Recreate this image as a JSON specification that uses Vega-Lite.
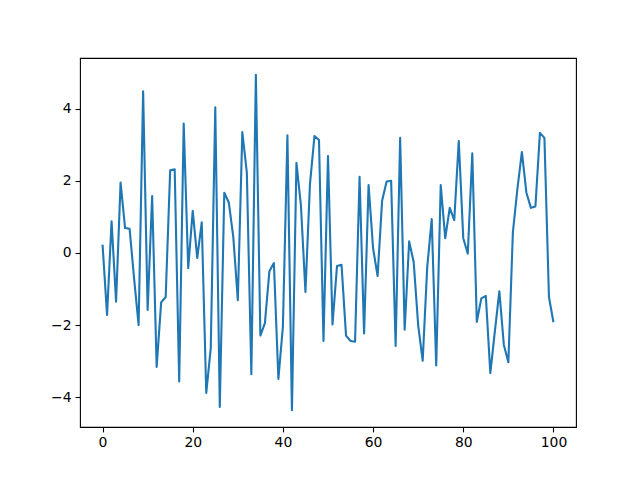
{
  "$schema": "https://vega.github.io/schema/vega-lite/v6.json",
  "width": 496,
  "height": 369,
  "autosize": {"type": "none"},
  "padding": {"left": 80, "top": 58, "right": 64, "bottom": 53},
  "background": "white",
  "config": {
    "view": {"stroke": "black", "strokeWidth": 1.1},
    "axis": {
      "grid": false,
      "domain": false,
      "tickColor": "black",
      "tickSize": 4.9,
      "tickWidth": 1.1,
      "labelColor": "black",
      "labelFont": "DejaVu Sans",
      "labelFontSize": 13.9,
      "labelPadding": 4,
      "title": null
    }
  },
  "data": {
    "values": [
      {"x": 0, "y": 0.23}, {"x": 1, "y": -1.72}, {"x": 2, "y": 0.88}, {"x": 3, "y": -1.35}, {"x": 4, "y": 1.95},
      {"x": 5, "y": 0.69}, {"x": 6, "y": 0.67}, {"x": 7, "y": -0.71}, {"x": 8, "y": -2.0}, {"x": 9, "y": 4.48},
      {"x": 10, "y": -1.58}, {"x": 11, "y": 1.58}, {"x": 12, "y": -3.16}, {"x": 13, "y": -1.37}, {"x": 14, "y": -1.22},
      {"x": 15, "y": 2.29}, {"x": 16, "y": 2.32}, {"x": 17, "y": -3.56}, {"x": 18, "y": 3.59}, {"x": 19, "y": -0.42},
      {"x": 20, "y": 1.17}, {"x": 21, "y": -0.14}, {"x": 22, "y": 0.85}, {"x": 23, "y": -3.88}, {"x": 24, "y": -2.64},
      {"x": 25, "y": 4.04}, {"x": 26, "y": -4.27}, {"x": 27, "y": 1.67}, {"x": 28, "y": 1.4}, {"x": 29, "y": 0.44},
      {"x": 30, "y": -1.31}, {"x": 31, "y": 3.35}, {"x": 32, "y": 2.23}, {"x": 33, "y": -3.36}, {"x": 34, "y": 4.94},
      {"x": 35, "y": -2.29}, {"x": 36, "y": -1.95}, {"x": 37, "y": -0.51}, {"x": 38, "y": -0.28}, {"x": 39, "y": -3.49},
      {"x": 40, "y": -2.04}, {"x": 41, "y": 3.26}, {"x": 42, "y": -4.36}, {"x": 43, "y": 2.5}, {"x": 44, "y": 1.31},
      {"x": 45, "y": -1.08}, {"x": 46, "y": 1.91}, {"x": 47, "y": 3.24}, {"x": 48, "y": 3.13}, {"x": 49, "y": -2.44},
      {"x": 50, "y": 2.69}, {"x": 51, "y": -1.98}, {"x": 52, "y": -0.36}, {"x": 53, "y": -0.33}, {"x": 54, "y": -2.29},
      {"x": 55, "y": -2.44}, {"x": 56, "y": -2.46}, {"x": 57, "y": 2.11}, {"x": 58, "y": -2.23}, {"x": 59, "y": 1.88},
      {"x": 60, "y": 0.13}, {"x": 61, "y": -0.64}, {"x": 62, "y": 1.45}, {"x": 63, "y": 1.98}, {"x": 64, "y": 2.0},
      {"x": 65, "y": -2.58}, {"x": 66, "y": 3.19}, {"x": 67, "y": -2.13}, {"x": 68, "y": 0.32}, {"x": 69, "y": -0.25},
      {"x": 70, "y": -2.0}, {"x": 71, "y": -2.99}, {"x": 72, "y": -0.4}, {"x": 73, "y": 0.94}, {"x": 74, "y": -3.12},
      {"x": 75, "y": 1.88}, {"x": 76, "y": 0.41}, {"x": 77, "y": 1.25}, {"x": 78, "y": 0.91}, {"x": 79, "y": 3.1},
      {"x": 80, "y": 0.41}, {"x": 81, "y": -0.02}, {"x": 82, "y": 2.76}, {"x": 83, "y": -1.91}, {"x": 84, "y": -1.26},
      {"x": 85, "y": -1.19}, {"x": 86, "y": -3.33}, {"x": 87, "y": -2.18}, {"x": 88, "y": -1.06}, {"x": 89, "y": -2.55},
      {"x": 90, "y": -3.03}, {"x": 91, "y": 0.57}, {"x": 92, "y": 1.77}, {"x": 93, "y": 2.8}, {"x": 94, "y": 1.67},
      {"x": 95, "y": 1.25}, {"x": 96, "y": 1.29}, {"x": 97, "y": 3.33}, {"x": 98, "y": 3.19}, {"x": 99, "y": -1.22},
      {"x": 100, "y": -1.92}
    ]
  },
  "mark": {"type": "line", "color": "#1f77b4", "strokeWidth": 2.1, "strokeJoin": "round", "strokeCap": "butt"},
  "encoding": {
    "x": {
      "field": "x", "type": "quantitative",
      "scale": {"domain": [-5, 105], "nice": false, "zero": false},
      "axis": {"values": [0, 20, 40, 60, 80, 100], "format": "d"}
    },
    "y": {
      "field": "y", "type": "quantitative",
      "scale": {"domain": [-4.825, 5.405], "nice": false, "zero": false},
      "axis": {"values": [-4, -2, 0, 2, 4], "format": "d"}
    }
  }
}
